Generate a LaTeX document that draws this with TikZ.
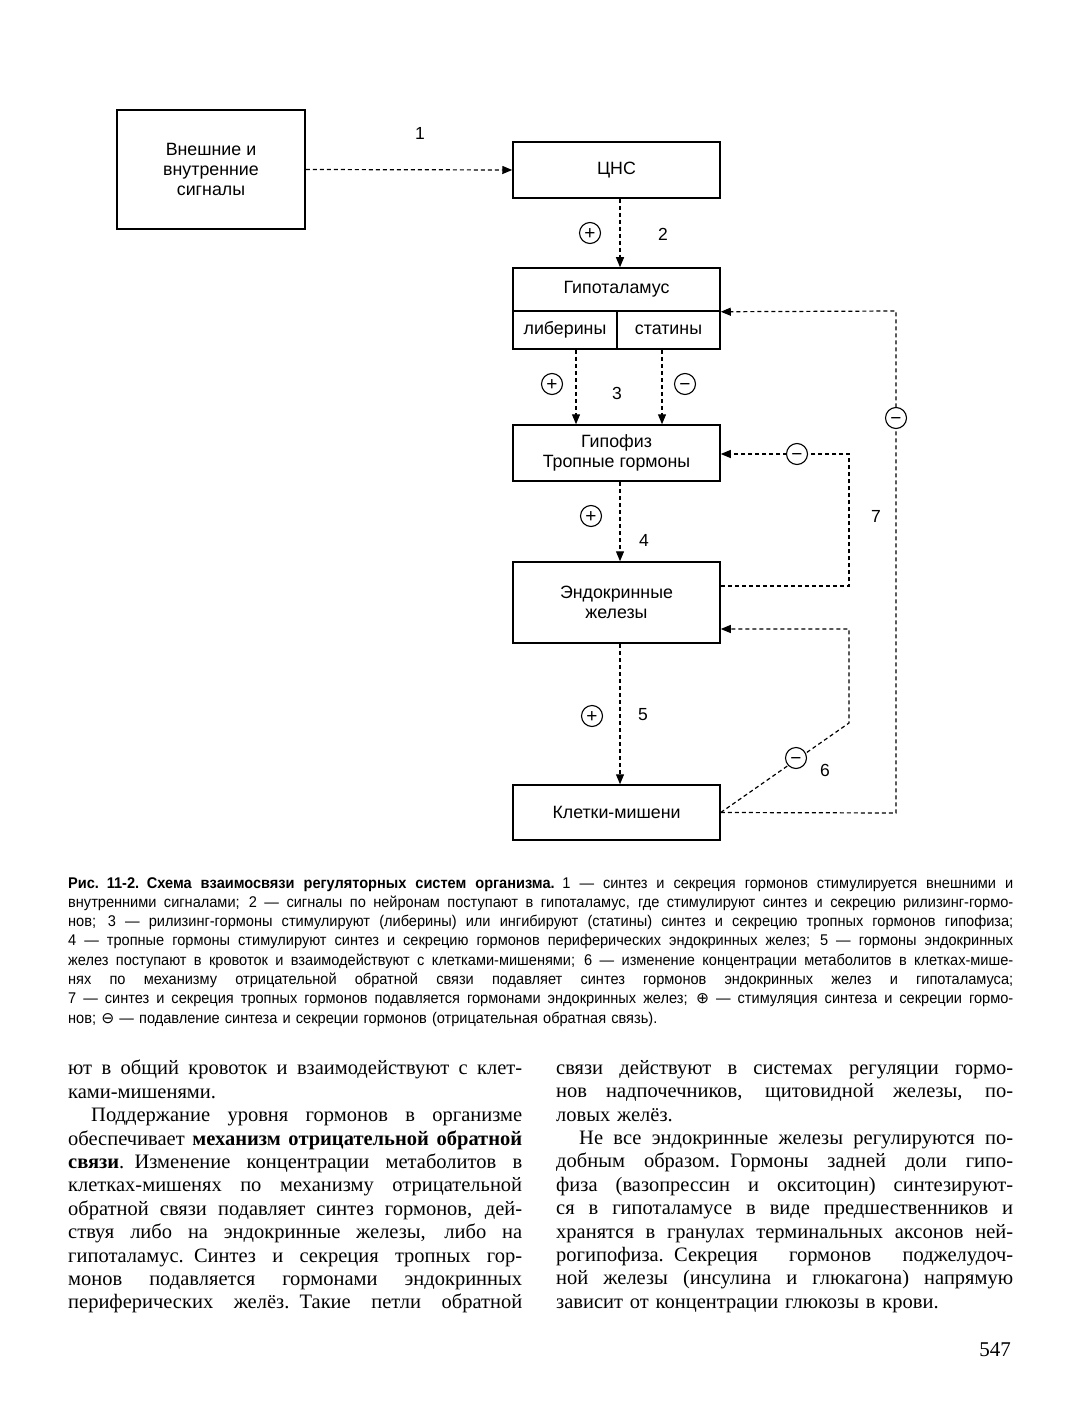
\documentclass[tikz,border=0pt]{standalone}
\usepackage{fontspec}
\setmainfont{Liberation Serif}
\setsansfont{Liberation Sans}
\newfontfamily\capfont[FakeStretch=0.94]{Liberation Sans}
\newfontfamily\symfont{DejaVu Sans}
\usetikzlibrary{arrows.meta}

% one justified line of a given width, and the last line of a paragraph
\newcommand\jl[2]{\noindent\hbox to #1{\spaceskip=\fontdimen2\font plus 1fil\relax #2}\par}
\newcommand\lastln[1]{\noindent#1\par}

\tikzset{
  box/.style={draw, line width=1.5pt, inner sep=0pt, align=center,
    font=\sffamily\fontsize{17.8}{20.3}\selectfont},
  link/.style={line width=1.2pt, dash pattern=on 4pt off 3pt,
    -{Triangle[length=10pt, width=8pt]}},
  sign/.style={circle, draw, fill=white, line width=1.1pt, minimum size=21pt,
    inner sep=0pt, text height=12.4pt, text depth=0pt,
    font=\sffamily\fontsize{19}{19}\selectfont},
  num/.style={font=\sffamily\fontsize{17.5}{17.5}\selectfont},
  caption/.style={anchor=north west, inner sep=0pt, text width=945pt,
    font=\capfont\fontsize{15.5}{19.3}\selectfont},
  body/.style={anchor=north west, inner sep=0pt,
    font=\fontsize{20.5}{23.4}\selectfont},
}

\begin{document}
\begin{tikzpicture}[x=1pt, y=-1pt]
\useasboundingbox (0,0) rectangle (1077,1423);

% Boxes
\node[box, minimum width=188pt, minimum height=119pt] (ext) at (211,169.5) {Внешние и\\внутренние\\сигналы};
\node[box, minimum width=207pt, minimum height=56pt] (cns) at (616.5,170) {ЦНС};
\node[box, minimum width=207pt, minimum height=43pt] (hyp) at (616.5,289.5) {Гипоталамус};
\node[box, minimum width=104pt, minimum height=38pt] (lib) at (565,330) {либерины};
\node[box, minimum width=103pt, minimum height=38pt] (stat) at (668.5,330) {статины};
\node[box, minimum width=207pt, minimum height=56pt] (pit) at (616.5,453) {Гипофиз\\Тропные гормоны};
\node[box, minimum width=207pt, minimum height=81pt] (endo) at (616.5,602.5) {Эндокринные\\железы};
\node[box, minimum width=207pt, minimum height=55pt] (cell) at (616.5,812.5) {Клетки-мишени};

% Main chain
\draw[link] (ext.east) -- (cns.west);
\draw[link] ([xshift=3.5pt]cns.south) -- ([xshift=3.5pt]hyp.north);
\draw[link] ([xshift=11pt]lib.south) -- ([xshift=11pt]lib.south |- pit.north);
\draw[link] ([xshift=-6.5pt]stat.south) -- ([xshift=-6.5pt]stat.south |- pit.north);
\draw[link] ([xshift=3.5pt]pit.south) -- ([xshift=3.5pt]endo.north);
\draw[link] ([xshift=3.5pt]endo.south) -- ([xshift=3.5pt]cell.north);

% Feedback loops
\coordinate (k7a) at (849,586);
\coordinate (k7b) at (849,454);
\draw[link] (endo.east |- k7a) -- (k7a) -- (k7b) -- (pit.east |- k7b);
\coordinate (k6a) at (849,723);
\coordinate (k6b) at (849,629);
\draw[link] (cell.east) -- (k6a) -- (k6b) -- (endo.east |- k6b);
\coordinate (k8a) at (896,813);
\coordinate (k8b) at (896,311);
\draw[link] (cell.east) -- (k8a) -- (k8b) -- (hyp.south east);

% Signs
\foreach \nm/\x/\y/\s in {s2/590/233/+, s3a/552/384/+, s3b/685/384/−, s4/591/516/+,
    s7/797/454/−, s8/896/418/−, s5/592/716/+, s6/796/758/−}
  \node[sign] (\nm) at (\x,\y) {\s};

% Numbers
\foreach \nm/\x/\y in {1/420/133, 2/663/234, 3/617/393, 4/644/540, 5/643/715, 6/825/770, 7/876/516}
  \node[num] (n\nm) at (\x,\y) {\nm};

% Caption
\node[caption] (capt) at (68,877) {%
\jl{945pt}{{\bfseries Рис. 11-2. Схема взаимосвязи регуляторных систем организма.} 1 — синтез и секреция гормонов стимулируется внешними и}
\jl{945pt}{внутренними сигналами; 2 — сигналы по нейронам поступают в гипоталамус, где стимулируют синтез и секрецию рилизинг-гормо-}
\jl{945pt}{нов; 3 — рилизинг-гормоны стимулируют (либерины) или ингибируют (статины) синтез и секрецию тропных гормонов гипофиза;}
\jl{945pt}{4 — тропные гормоны стимулируют синтез и секрецию гормонов периферических эндокринных желез; 5 — гормоны эндокринных}
\jl{945pt}{желез поступают в кровоток и взаимодействуют с клетками-мишенями; 6 — изменение концентрации метаболитов в клетках-мише-}
\jl{945pt}{нях по механизму отрицательной обратной связи подавляет синтез гормонов эндокринных желез и гипоталамуса;}
\jl{945pt}{7 — синтез и секреция тропных гормонов подавляется гормонами эндокринных желез; {\symfont ⊕} — стимуляция синтеза и секреции гормо-}
\lastln{нов; {\symfont ⊖} — подавление синтеза и секреции гормонов (отрицательная обратная связь).}};

% Body text, two columns
\node[body, text width=454pt] (colL) at (68,1060) {%
\jl{454pt}{ют в общий кровоток и взаимодействуют с клет-}
\lastln{ками-мишенями.}
\jl{454pt}{\hspace*{23pt}Поддержание уровня гормонов в организме}
\jl{454pt}{обеспечивает {\bfseries механизм отрицательной обратной}}
\jl{454pt}{{\bfseries связи}. Изменение концентрации метаболитов в}
\jl{454pt}{клетках-мишенях по механизму отрицательной}
\jl{454pt}{обратной связи подавляет синтез гормонов, дей-}
\jl{454pt}{ствуя либо на эндокринные железы, либо на}
\jl{454pt}{гипоталамус. Синтез и секреция тропных гор-}
\jl{454pt}{монов подавляется гормонами эндокринных}
\jl{454pt}{периферических желёз. Такие петли обратной}};

\node[body, text width=457pt] (colR) at (556,1060) {%
\jl{457pt}{связи действуют в системах регуляции гормо-}
\jl{457pt}{нов надпочечников, щитовидной железы, по-}
\lastln{ловых желёз.}
\jl{457pt}{\hspace*{23pt}Не все эндокринные железы регулируются по-}
\jl{457pt}{добным образом. Гормоны задней доли гипо-}
\jl{457pt}{физа (вазопрессин и окситоцин) синтезируют-}
\jl{457pt}{ся в гипоталамусе в виде предшественников и}
\jl{457pt}{хранятся в гранулах терминальных аксонов ней-}
\jl{457pt}{рогипофиза. Секреция гормонов поджелудоч-}
\jl{457pt}{ной железы (инсулина и глюкагона) напрямую}
\lastln{зависит от концентрации глюкозы в крови.}};

% Page number
\node[font=\fontsize{21}{21}\selectfont] (page) at (995,1350) {547};

\end{tikzpicture}
\end{document}
